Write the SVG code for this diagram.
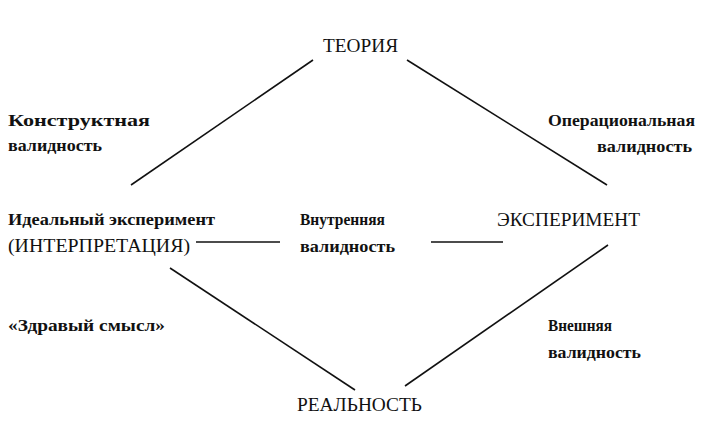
<svg xmlns="http://www.w3.org/2000/svg" width="708" height="431" viewBox="0 0 708 431">
<style>
text{font-family:"Liberation Serif","Times New Roman",serif;font-size:17px;fill:#111;font-weight:600}
.big{font-size:18px;font-weight:normal}
.c line{stroke:#111;stroke-width:1.6}
</style>
<rect width="708" height="431" fill="#fff"/>
<g class="c" id="connectors">
<line x1="313" y1="60" x2="131" y2="185"/>
<line x1="407" y1="60" x2="607" y2="185"/>
<line x1="196" y1="242" x2="280" y2="242"/>
<line x1="431" y1="242" x2="503" y2="242"/>
<line x1="170" y1="268" x2="355" y2="390"/>
<line x1="608" y1="245" x2="405" y2="386"/>
</g>
<g id="theory"><text class="big" x="323" y="52" textLength="75" lengthAdjust="spacingAndGlyphs">ТЕОРИЯ</text></g>
<g id="construct"><text x="8" y="126" textLength="142" lengthAdjust="spacingAndGlyphs">Конструктная</text><text x="8" y="151" textLength="94" lengthAdjust="spacingAndGlyphs">валидность</text></g>
<g id="operational"><text x="548" y="126" textLength="147" lengthAdjust="spacingAndGlyphs">Операциональная</text><text x="597" y="152" textLength="95" lengthAdjust="spacingAndGlyphs">валидность</text></g>
<g id="ideal"><text x="8" y="225" textLength="207" lengthAdjust="spacingAndGlyphs">Идеальный эксперимент</text><text class="big" x="8" y="252" textLength="182" lengthAdjust="spacingAndGlyphs">(ИНТЕРПРЕТАЦИЯ)</text></g>
<g id="internal"><text x="300" y="225" textLength="85" lengthAdjust="spacingAndGlyphs">Внутренняя</text><text x="300" y="252" textLength="95" lengthAdjust="spacingAndGlyphs">валидность</text></g>
<g id="experiment"><text class="big" x="497" y="226" textLength="143" lengthAdjust="spacingAndGlyphs">ЭКСПЕРИМЕНТ</text></g>
<g id="common"><text x="8" y="331" textLength="157" lengthAdjust="spacingAndGlyphs">«Здравый смысл»</text></g>
<g id="external"><text x="548" y="331" textLength="64" lengthAdjust="spacingAndGlyphs">Внешняя</text><text x="548" y="358" textLength="93" lengthAdjust="spacingAndGlyphs">валидность</text></g>
<g id="reality"><text class="big" x="297" y="411" textLength="125" lengthAdjust="spacingAndGlyphs">РЕАЛЬНОСТЬ</text></g>
</svg>
